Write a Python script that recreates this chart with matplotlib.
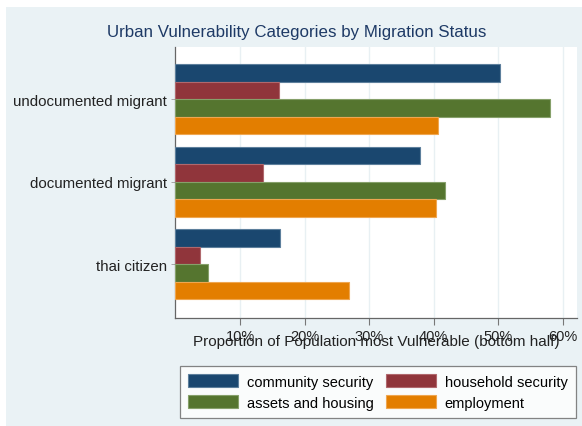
import numpy as np
import matplotlib.pyplot as plt
from matplotlib.patches import Rectangle

plt.rcParams["font.family"] = ["Liberation Sans", "DejaVu Sans"]

groups = ["undocumented migrant", "documented migrant", "thai citizen"]
series = ["community security", "household security", "assets and housing", "employment"]
community = [50.2, 37.9, 16.2]
household = [16.1, 13.5, 3.8]
assets = [58.0, 41.8, 5.1]
employment = [40.6, 40.3, 26.8]
colors = ["#1a476f", "#90353b", "#55752f", "#e37e00"]
edges = ["#5d7f9c", "#b0686d", "#86a06a", "#efa650"]

ticks = [10, 20, 30, 40, 50, 60]


def main():
    fig = plt.figure(figsize=(5.82, 4.27), dpi=100)
    fig.patch.set_facecolor("white")
    # stata style graph region
    fig.patches.append(Rectangle((6 / 582, 0), 1, 1 - 8 / 427, transform=fig.transFigure,
                                 facecolor="#eaf2f5", edgecolor="none", zorder=-1))

    ax = fig.add_axes([0.3015, 0.2529, 0.690, 0.6347])
    ax.set_facecolor("white")

    y = np.arange(len(groups))
    h = 0.212
    values = [community, household, assets, employment]
    for i, (vals, c, e) in enumerate(zip(values, colors, edges)):
        ax.barh(y + (i - 1.5) * h, vals, height=h, color=c, edgecolor=e,
                linewidth=0.8, label=series[i], zorder=3)

    ax.set_xlim(0, 62.2)
    ax.set_ylim(2.65, -0.63)
    ax.set_xticks(ticks)
    ax.set_xticklabels([f"{t}%" for t in ticks], fontsize=10.5, color="#222222")
    ax.set_yticks(y)
    ax.set_yticklabels(groups, fontsize=10.8, color="#222222")
    ax.grid(axis="x", color="#e8f0f3", linewidth=1, zorder=0)
    ax.tick_params(axis="x", length=5, width=0.8, color="#777777", pad=3)
    ax.tick_params(axis="y", length=3, width=0.6, color="#999999", pad=3)

    for side in ["top", "right"]:
        ax.spines[side].set_visible(False)
    for side in ["left", "bottom"]:
        ax.spines[side].set_color("#666666")
        ax.spines[side].set_linewidth(0.9)

    ax.set_xlabel("Proportion of Population most Vulnerable (bottom half)",
                  fontsize=11, color="#222222")
    ax.xaxis.set_label_coords(0.5, -0.085)
    ax.xaxis.label.set_va("center")

    fig.text(0.51, 1 - 33 / 427, "Urban Vulnerability Categories by Migration Status",
             ha="center", va="center", fontsize=12.2, color="#1e3a66")

    handles, labels = ax.get_legend_handles_labels()
    order = [0, 2, 1, 3]
    leg = fig.legend([handles[i] for i in order], [labels[i] for i in order],
                     loc="upper left", bbox_to_anchor=(180 / 582, 1 - 367 / 427),
                     ncol=2, fontsize=10.5, frameon=True, fancybox=False,
                     handlelength=3.45, handleheight=1.0, handletextpad=0.6,
                     labelspacing=0.45, borderpad=0.55, borderaxespad=0, columnspacing=0.8)
    leg.get_frame().set_edgecolor("#666666")
    leg.get_frame().set_linewidth(0.9)

    fig.savefig("out.png", dpi=100, facecolor=fig.get_facecolor())


if __name__ == "__main__":
    main()
